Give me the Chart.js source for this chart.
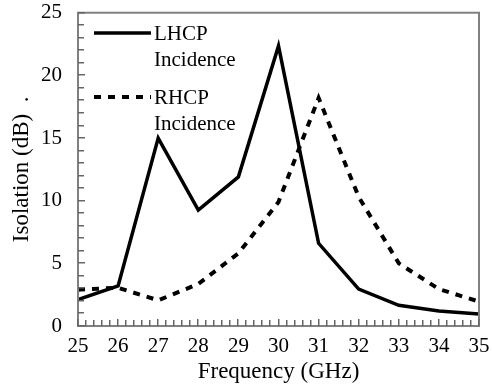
<!DOCTYPE html>
<html>
<head>
<meta charset="utf-8">
<script src="https://cdn.jsdelivr.net/npm/chart.js@4.4.0/dist/chart.umd.min.js"></script>
<style>
  html,body{margin:0;padding:0;background:#fff;}
  #wrap{width:492px;height:387px;position:relative;}
</style>
</head>
<body>
<div id="wrap"><canvas id="iso-chart" width="492" height="387"></canvas></div>
<script>
/* data */
var frequencies = [25, 26, 27, 28, 29, 30, 31, 32, 33, 34, 35];
var lhcpIsolation = [2.1, 3.2, 15.0, 9.25, 11.9, 22.35, 6.6, 2.95, 1.65, 1.2, 0.95];
var rhcpIsolation = [2.9, 3.05, 2.05, 3.35, 5.8, 9.9, 18.2, 10.3, 5.0, 2.95, 1.95];
var yTicks = [0, 5, 10, 15, 20, 25];
var legendLabels = [['LHCP', 'Incidence'], ['RHCP', 'Incidence']];

var FONT = '"Liberation Serif", "Times New Roman", serif';

/* frame, inward ticks and the two-line legend */
var framePlugin = {
  id: 'frame',
  afterDraw: function(chart){
    var c = chart.ctx, a = chart.chartArea;
    var xs = chart.scales.x, ys = chart.scales.y;
    c.save();
    c.setLineDash([]);
    c.strokeStyle = '#808080';
    c.lineWidth = 2;
    c.strokeRect(a.left, a.top, a.right - a.left, a.bottom - a.top);

    // minor and major ticks, pointing into the plot
    c.fillStyle = '#666';
    var i, v, px, len;
    for(i = 0; i <= 25; i++){
      px = Math.round(ys.getPixelForValue(i));
      len = (i % 5 === 0) ? 7 : 6;
      c.fillRect(a.left, px - 1, len, 1.5);
    }
    for(i = 0; i <= 50; i++){
      v = 25 + i * 0.2;
      px = Math.round(xs.getPixelForValue(v));
      len = (i % 5 === 0) ? 7 : 6;
      c.fillRect(px - 1, a.bottom - len, 1.5, len);
    }

    // legend
    var rows = [33, 97];
    c.font = '21px ' + FONT;
    c.fillStyle = '#000';
    c.textBaseline = 'middle';
    chart.data.datasets.forEach(function(ds, k){
      var y = rows[k];
      c.strokeStyle = '#000';
      c.lineWidth = ds.borderWidth;
      c.setLineDash(ds.borderDash || []);
      c.beginPath();
      c.moveTo(94, y); c.lineTo(151, y);
      c.stroke();
      c.setLineDash([]);
      c.fillText(legendLabels[k][0], 154, y + 1);
      c.fillText(legendLabels[k][1], 154, y + 27);
    });
    c.restore();
  }
};

var ctx = document.getElementById('iso-chart');
new Chart(ctx, {
  type: 'line',
  data: {
    labels: frequencies,
    datasets: [
      {
        label: 'LHCP Incidence',
        data: frequencies.map(function(f, i){ return {x: f, y: lhcpIsolation[i]}; }),
        borderColor: '#000',
        borderWidth: 3.5,
        pointRadius: 0,
        tension: 0,
        fill: false
      },
      {
        label: 'RHCP Incidence',
        data: frequencies.map(function(f, i){ return {x: f, y: rhcpIsolation[i]}; }),
        borderColor: '#000',
        borderWidth: 4,
        borderDash: [7, 7],
        pointRadius: 0,
        tension: 0,
        fill: false
      }
    ]
  },
  options: {
    responsive: false,
    animation: false,
    layout: {padding: {top: 0, right: 13, left: 0, bottom: 0}},
    plugins: {legend: {display: false}, tooltip: {enabled: false}},
    scales: {
      x: {
        type: 'linear',
        min: 25, max: 35,
        grid: {display: false},
        border: {display: false},
        afterBuildTicks: function(s){ s.ticks = frequencies.map(function(f){ return {value: f}; }); },
        afterFit: function(s){ s.height = 61; },
        ticks: {color: '#000', font: {family: FONT, size: 21}, padding: 0, maxRotation: 0, autoSkip: false},
        title: {display: true, text: 'Frequency (GHz)', color: '#000', font: {family: FONT, size: 23}, padding: {top: 0, bottom: 1}}
      },
      y: {
        min: 0, max: 25,
        grid: {display: false},
        border: {display: false},
        afterBuildTicks: function(s){ s.ticks = yTicks.map(function(t){ return {value: t}; }); },
        afterFit: function(s){ s.width = 78; },
        ticks: {color: '#000', font: {family: FONT, size: 21, lineHeight: 0.45}, padding: 8},
        title: {display: true, text: 'Isolation (dB)  .', color: '#000', font: {family: FONT, size: 23}, padding: {top: 8, bottom: 0}}
      }
    }
  },
  plugins: [framePlugin]
});
</script>
</body>
</html>
